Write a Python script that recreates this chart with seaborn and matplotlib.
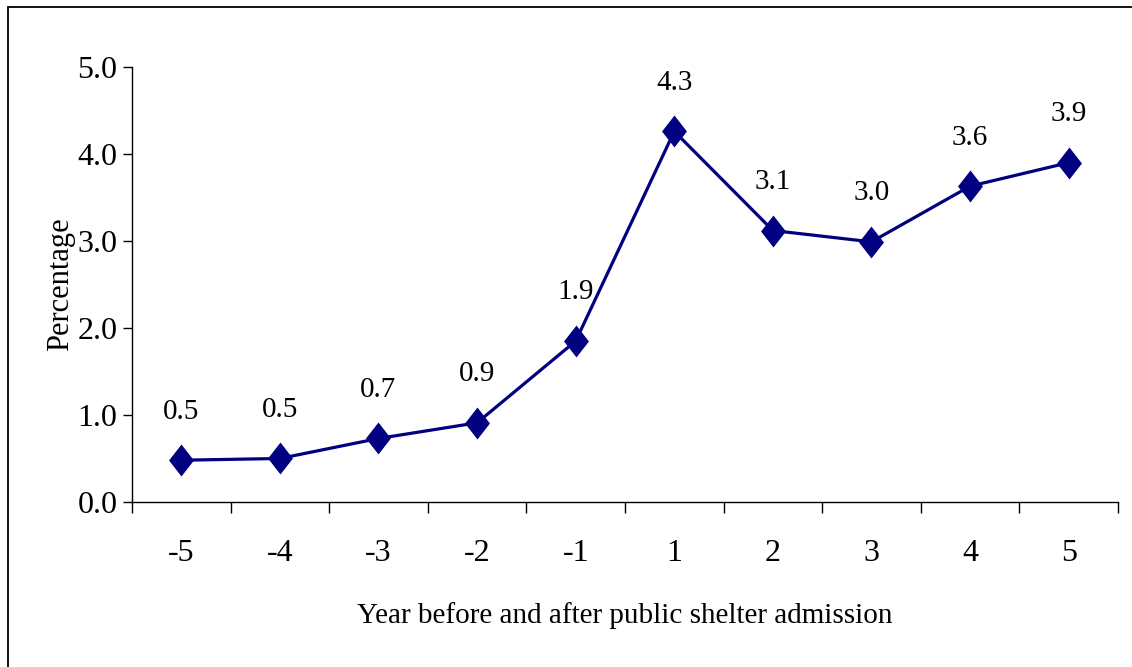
import pandas as pd
import numpy as np
import matplotlib
matplotlib.use("Agg")
import matplotlib.pyplot as plt
from matplotlib.patches import Rectangle
import seaborn as sns

# Data
years = ["-5", "-4", "-3", "-2", "-1", "1", "2", "3", "4", "5"]
percentages = [0.48, 0.50, 0.73, 0.91, 1.85, 4.26, 3.12, 2.99, 3.63, 3.90]
value_labels = ["0.5", "0.5", "0.7", "0.9", "1.9", "4.3", "3.1", "3.0", "3.6", "3.9"]
y_ticks = [0.0, 1.0, 2.0, 3.0, 4.0, 5.0]

df = pd.DataFrame({"year": years, "pct": percentages})

sns.set_theme(style="ticks")
plt.rcParams["font.family"] = ["Liberation Serif", "DejaVu Serif"]

fig = plt.figure(figsize=(11.32, 6.67), dpi=100)
ax = fig.add_axes([0.1166, 0.2474, 0.871, 0.6522])

# tall diamond marker, like the Excel one
diamond = [(0, -1), (0.78, 0), (0, 1), (-0.78, 0), (0, -1)]

sns.pointplot(
    data=df, x="year", y="pct", order=years, errorbar=None,
    color="#000080", marker=diamond, markersize=23,
    markeredgewidth=0, linewidth=2.3, ax=ax,
)

for i, (v, lab) in enumerate(zip(percentages, value_labels)):
    ax.annotate(lab, (i, v), xytext=(0, 35), textcoords="offset points",
                ha="center", va="center", fontsize=21, color="black")

ax.set_ylim(0, 5)
ax.set_yticks(y_ticks)
ax.set_yticklabels([f"{t:.1f}" for t in y_ticks], fontsize=23)
ax.set_xlim(-0.5, len(years) - 0.5)
ax.set_xticks(range(len(years)))
ax.set_xticklabels(years, fontsize=23)
ax.set_xticks(np.arange(-0.5, len(years), 1), minor=True)

ax.tick_params(axis="x", which="major", length=0, pad=27, colors="black")
ax.tick_params(axis="x", which="minor", length=8, width=1, direction="out", color="black")
ax.tick_params(axis="y", which="major", length=6.5, width=1, direction="out", pad=4, colors="black")

for side in ["top", "right"]:
    ax.spines[side].set_visible(False)
for side in ["left", "bottom"]:
    ax.spines[side].set_color("black")
    ax.spines[side].set_linewidth(1.0)

ax.set_xlabel("Year before and after public shelter admission", fontsize=21, color="black")
ax.set_ylabel("Percentage", fontsize=22, color="black")
ax.xaxis.set_label_coords(0.5, -0.23)
ax.yaxis.set_label_coords(-0.058, 0.5)

# outer chart border (only left and top fall inside the picture)
fig.patches.append(Rectangle((8 / 1132, -0.2), 1.5, 1.2 - 7 / 667,
                             transform=fig.transFigure, fill=False,
                             edgecolor="black", linewidth=1.3))

fig.savefig("out.png", dpi=100, facecolor="white")
